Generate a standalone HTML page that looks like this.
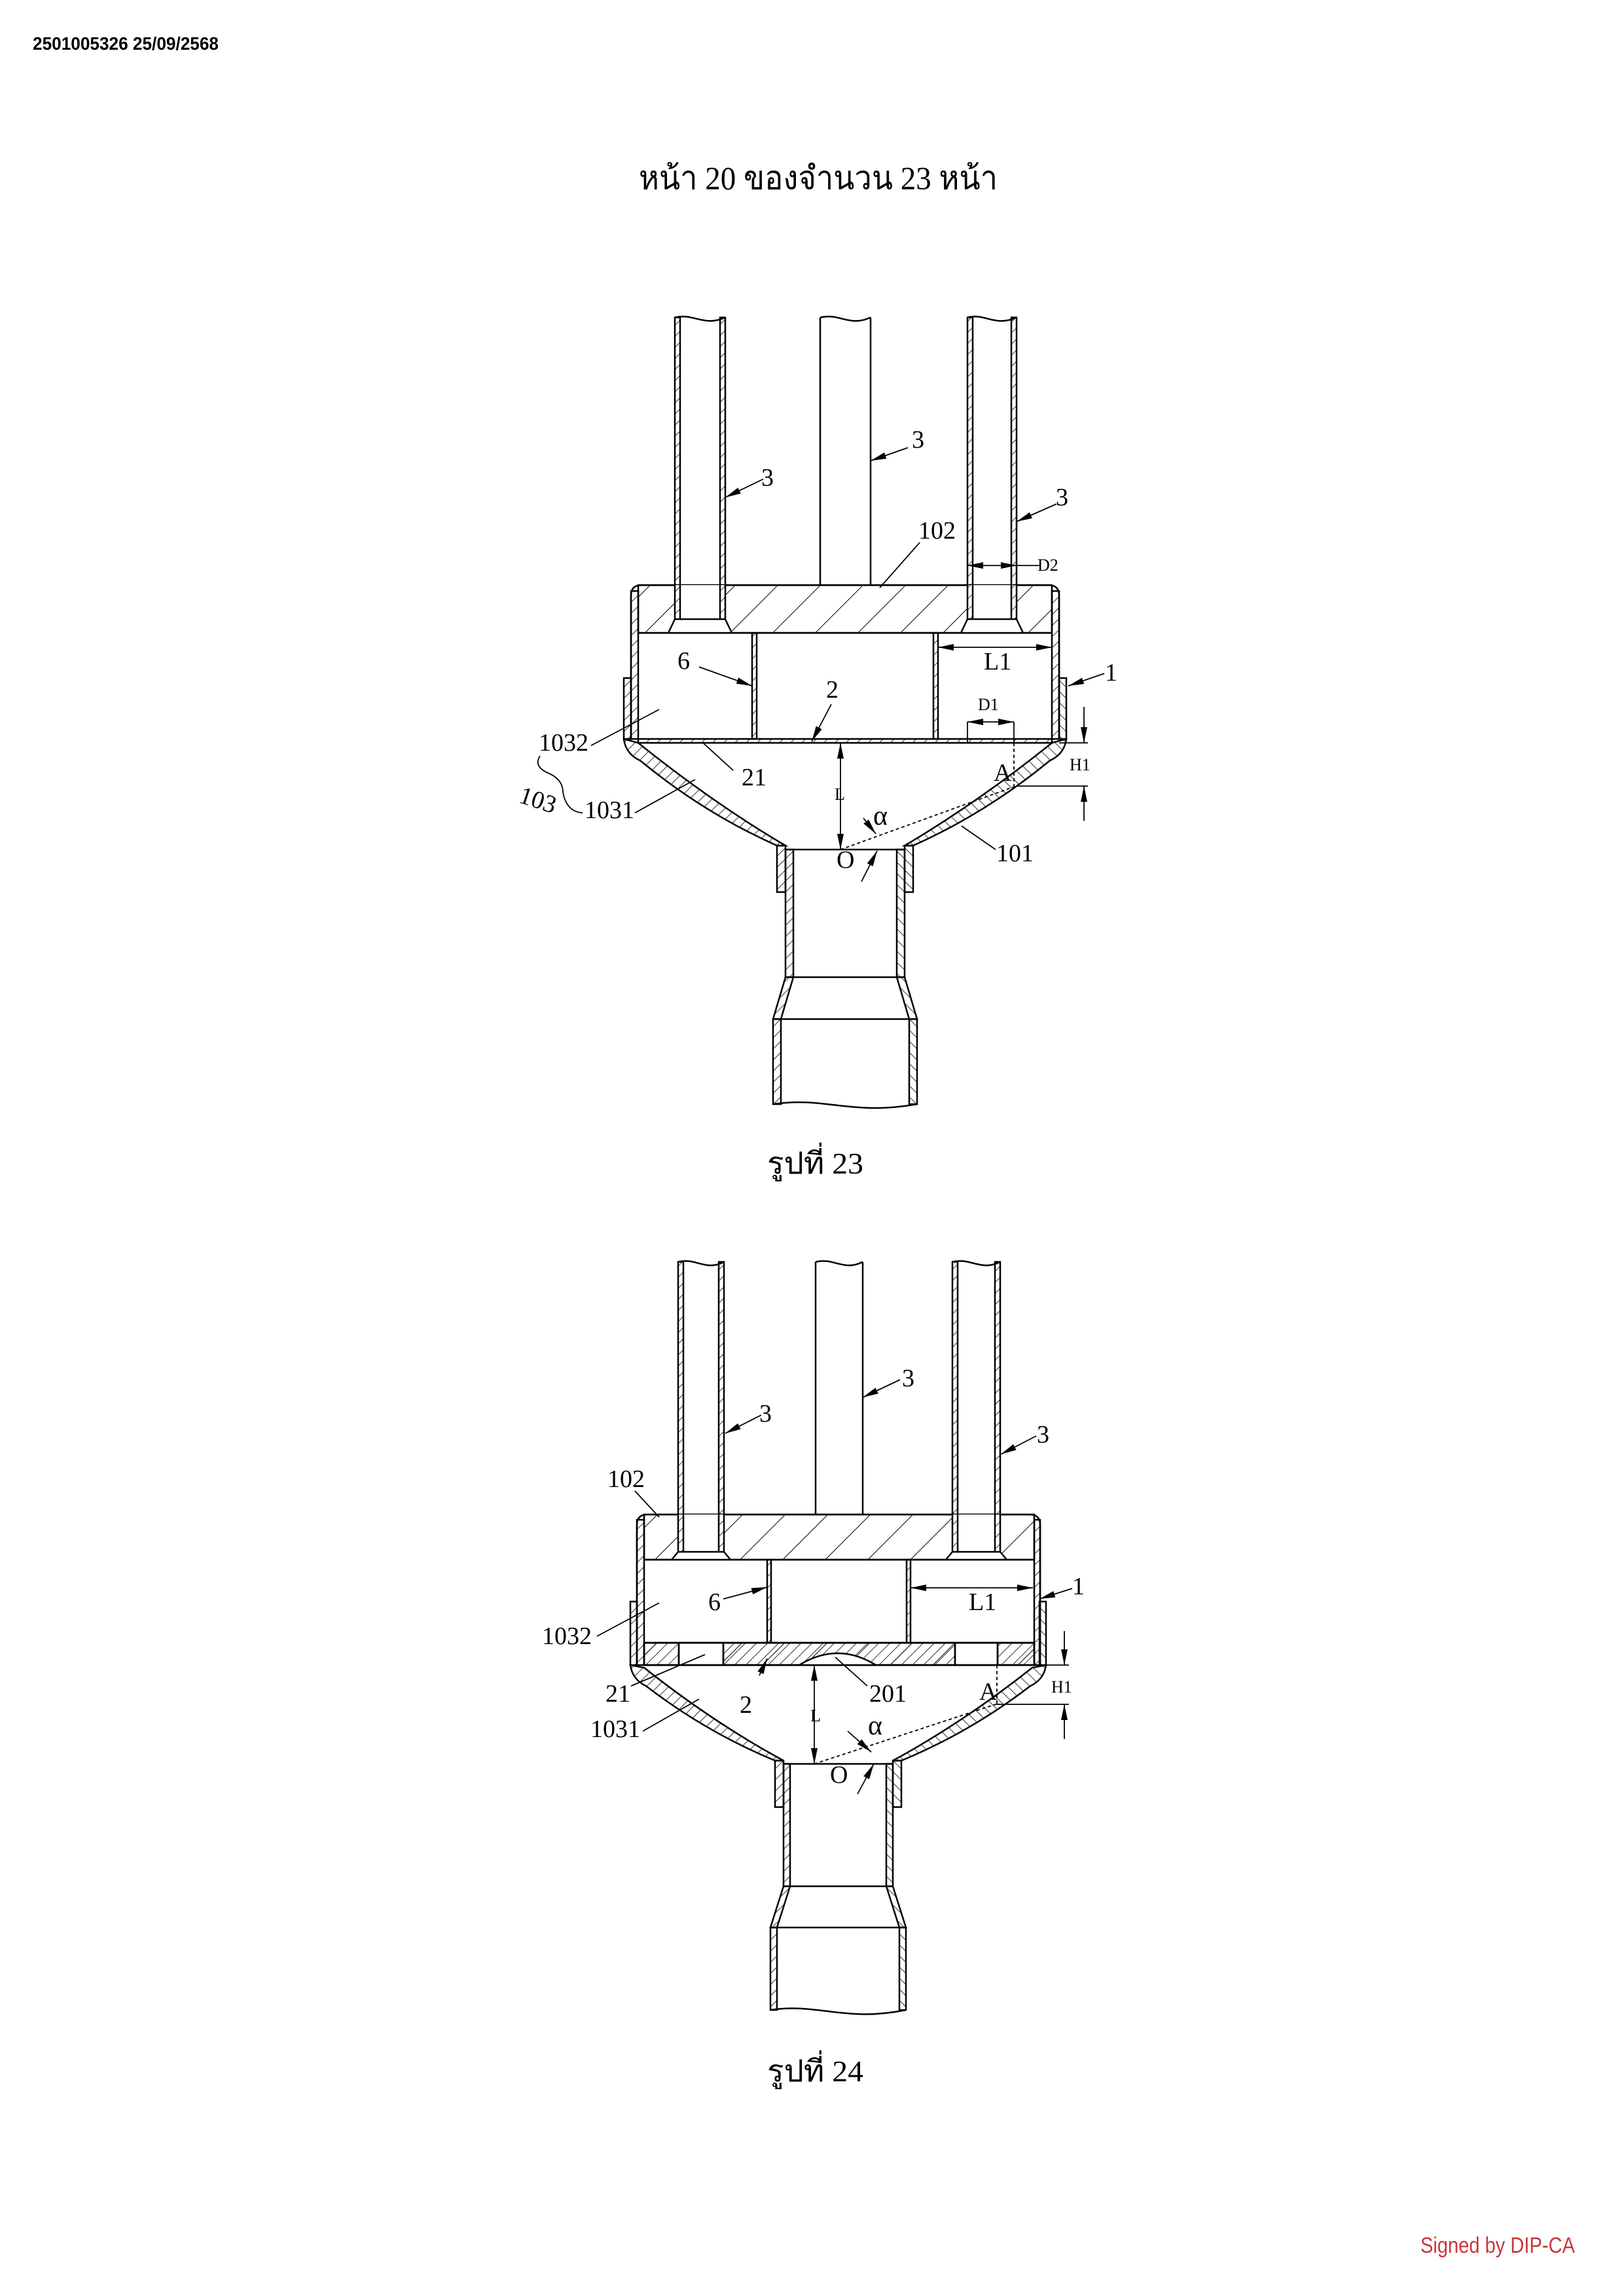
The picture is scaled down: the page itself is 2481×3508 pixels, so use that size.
<!DOCTYPE html>
<html><head><meta charset="utf-8"><style>
html,body{margin:0;padding:0;background:#fff}
svg{display:block}
text{font-family:"Liberation Serif","Noto Serif CJK SC",serif;fill:#000}
</style></head><body>
<svg width="2481" height="3508" viewBox="0 0 2481 3508" xmlns="http://www.w3.org/2000/svg">
<defs>
<pattern id="hs" patternUnits="userSpaceOnUse" width="12" height="12" patternTransform="rotate(45)"><line x1="0" y1="0" x2="0" y2="12" stroke="#000" stroke-width="1.6"/></pattern>
<pattern id="hb" patternUnits="userSpaceOnUse" width="46" height="46" patternTransform="rotate(45)"><line x1="0" y1="0" x2="0" y2="46" stroke="#000" stroke-width="2"/></pattern>
<marker id="a" markerUnits="userSpaceOnUse" markerWidth="24" markerHeight="10" refX="24" refY="5" orient="auto"><path d="M0,0 L24,5 L0,10 Z" fill="#000"/></marker>
<marker id="as" markerUnits="userSpaceOnUse" markerWidth="24" markerHeight="10" refX="0" refY="5" orient="auto"><path d="M24,0 L0,5 L24,10 Z" fill="#000"/></marker>
</defs>
<rect width="2481" height="3508" fill="#fff"/>

<text x="50" y="76" font-weight="bold" font-size="28" textLength="284" lengthAdjust="spacingAndGlyphs" style="font-family:'Liberation Sans',sans-serif">2501005326 25/09/2568</text>
<text x="976" y="289" font-size="50" textLength="548" lengthAdjust="spacingAndGlyphs">หน้า 20 ของจำนวน 23 หน้า</text>

<!-- ================= FIGURE 23 ================= -->
<g stroke="#000" stroke-width="2.5" fill="none">
  <rect x="964" y="903" width="11" height="226" fill="url(#hs)"/>
  <rect x="1607" y="903" width="11" height="226" fill="url(#hs)"/>
  <path d="M964 1129 L964 910 Q964 894 980 894 L1602 894 Q1618 894 1618 910 L1618 1129"/>
  <rect x="975" y="894" width="632" height="73" fill="url(#hb)"/>
  <polygon points="1031,894 1108,894 1108,946 1118,967 1021,967 1031,946" fill="#fff" stroke="none"/>
  <polygon points="1478,894 1553,894 1553,946 1563,967 1468,967 1478,946" fill="#fff" stroke="none"/>
  <path d="M1031 946 L1021 967 M1108 946 L1118 967 M1478 946 L1468 967 M1553 946 L1563 967"/>
  <line x1="975" y1="967" x2="1607" y2="967"/>
  <rect x="1031" y="485" width="8" height="461" fill="url(#hs)"/>
  <rect x="1100" y="485" width="8" height="461" fill="url(#hs)"/>
  <line x1="1039" y1="946" x2="1100" y2="946"/>
  <path d="M1031 485 C1060 478 1075 500 1108 485"/>
  <line x1="1253" y1="485" x2="1253" y2="894"/>
  <line x1="1330" y1="485" x2="1330" y2="894"/>
  <path d="M1253 485 C1283 478 1298 500 1330 485"/>
  <rect x="1478" y="485" width="8" height="461" fill="url(#hs)"/>
  <rect x="1545" y="485" width="8" height="461" fill="url(#hs)"/>
  <line x1="1486" y1="946" x2="1545" y2="946"/>
  <path d="M1478 485 C1505 478 1520 500 1553 485"/>
  <rect x="1149" y="967" width="7" height="162" fill="url(#hs)"/>
  <rect x="1426" y="967" width="7" height="162" fill="url(#hs)"/>
  <rect x="975" y="1129" width="632" height="6" fill="url(#hs)"/>
  <g id="f23">
    <rect x="953" y="1036" width="11" height="93" fill="url(#hs)"/>
    <path d="M953 1129 Q956 1152 978 1162 Q1075 1242 1187 1292 L1200 1292 Q1088 1226 975 1135 Z" fill="url(#hs)"/>
    <rect x="1187" y="1292" width="13" height="71" fill="url(#hs)"/>
    <rect x="1200" y="1298" width="12" height="195" fill="url(#hs)"/>
    <polygon points="1200,1493 1212,1493 1193,1557 1181,1557" fill="url(#hs)"/>
    <rect x="1181" y="1557" width="12" height="130" fill="url(#hs)"/>
  </g>
  <use href="#f23" transform="translate(2582,0) scale(-1,1)"/>
  <line x1="1200" y1="1298" x2="1382" y2="1298"/>
  <line x1="1212" y1="1493" x2="1370" y2="1493"/>
  <line x1="1193" y1="1557" x2="1389" y2="1557"/>
  <path d="M1181 1687 C1260 1675 1300 1705 1401 1687"/>
</g>
<g stroke="#000" stroke-width="1.8" fill="none">
  <line x1="1166" y1="732" x2="1108" y2="760" marker-end="url(#a)"/>
  <line x1="1387" y1="684" x2="1330" y2="704" marker-end="url(#a)"/>
  <line x1="1614" y1="770" x2="1553" y2="797" marker-end="url(#a)"/>
  <line x1="1405" y1="829" x2="1344" y2="898"/>
  <line x1="1478" y1="864" x2="1553" y2="864" marker-start="url(#as)" marker-end="url(#a)"/>
  <line x1="1553" y1="864" x2="1590" y2="864"/>
  <line x1="1433" y1="989" x2="1607" y2="989" marker-start="url(#as)" marker-end="url(#a)"/>
  <line x1="1687" y1="1029" x2="1632" y2="1048" marker-end="url(#a)"/>
  <line x1="1068" y1="1019" x2="1149" y2="1048" marker-end="url(#a)"/>
  <line x1="1270" y1="1076" x2="1240" y2="1133" marker-end="url(#a)"/>
  <line x1="1478" y1="1103" x2="1549" y2="1103" marker-start="url(#as)" marker-end="url(#a)"/>
  <line x1="1478" y1="1103" x2="1478" y2="1135"/>
  <line x1="1549" y1="1103" x2="1549" y2="1135"/>
  <line x1="1549" y1="1135" x2="1549" y2="1201" stroke-dasharray="5,4"/>
  <line x1="1618" y1="1135" x2="1662" y2="1135"/>
  <line x1="1552" y1="1201" x2="1662" y2="1201"/>
  <line x1="1656" y1="1080" x2="1656" y2="1135" marker-end="url(#a)"/>
  <line x1="1656" y1="1254" x2="1656" y2="1201" marker-end="url(#a)"/>
  <line x1="1120" y1="1177" x2="1074" y2="1135"/>
  <line x1="903" y1="1139" x2="1007" y2="1084"/>
  <line x1="970" y1="1242" x2="1062" y2="1191"/>
  <path d="M825 1155 Q815 1170 835 1180 Q860 1190 860 1210 Q865 1240 890 1242"/>
  <line x1="1284" y1="1135" x2="1284" y2="1298" marker-start="url(#as)" marker-end="url(#a)"/>
  <line x1="1284" y1="1298" x2="1552" y2="1201" stroke-dasharray="5,4"/>
  <line x1="1319" y1="1250" x2="1338" y2="1274" marker-end="url(#a)"/>
  <line x1="1316" y1="1347" x2="1340" y2="1300" marker-end="url(#a)"/>
  <line x1="1521" y1="1298" x2="1469" y2="1262"/>
</g>
<g font-size="38">
  <text x="1163" y="742">3</text>
  <text x="1393" y="684">3</text>
  <text x="1613" y="772">3</text>
  <text x="1403" y="823">102</text>
  <text x="1585" y="872" font-size="26">D2</text>
  <text x="1503" y="1023">L1</text>
  <text x="1688" y="1040">1</text>
  <text x="1035" y="1022">6</text>
  <text x="1262" y="1066">2</text>
  <text x="1494" y="1085" font-size="26">D1</text>
  <text x="1634" y="1177" font-size="26">H1</text>
  <text x="1518" y="1193">A</text>
  <text x="1133" y="1200">21</text>
  <text x="823" y="1147">1032</text>
  <text x="893" y="1250">1031</text>
  <text x="793" y="1232" transform="rotate(18 813 1222)">103</text>
  <text x="1275" y="1222" font-size="26">L</text>
  <text x="1278" y="1326">O</text>
  <text x="1334" y="1260" font-size="42">α</text>
  <text x="1522" y="1316">101</text>
</g>
<text x="1172" y="1793" font-size="46" textLength="147" lengthAdjust="spacingAndGlyphs">รูปที่ 23</text>

<!-- ================= FIGURE 24 ================= -->
<g stroke="#000" stroke-width="2.5" fill="none">
  <rect x="973" y="2322" width="11" height="222" fill="url(#hs)"/>
  <rect x="1580" y="2322" width="9" height="222" fill="url(#hs)"/>
  <path d="M973 2544 L973 2330 Q973 2314 989 2314 L1573 2314 Q1589 2314 1589 2330 L1589 2544"/>
  <rect x="984" y="2314" width="596" height="69" fill="url(#hb)"/>
  <polygon points="1036,2314 1106,2314 1106,2371 1116,2383 1026,2383 1036,2371" fill="#fff" stroke="none"/>
  <polygon points="1455,2314 1528,2314 1528,2371 1538,2383 1445,2383 1455,2371" fill="#fff" stroke="none"/>
  <path d="M1036 2371 L1026 2383 M1106 2371 L1116 2383 M1455 2371 L1445 2383 M1528 2371 L1538 2383"/>
  <line x1="984" y1="2383" x2="1580" y2="2383"/>
  <rect x="1036" y="1928" width="8" height="443" fill="url(#hs)"/>
  <rect x="1098" y="1928" width="8" height="443" fill="url(#hs)"/>
  <line x1="1044" y1="2371" x2="1098" y2="2371"/>
  <path d="M1036 1928 C1063 1921 1078 1943 1106 1928"/>
  <line x1="1246" y1="1928" x2="1246" y2="2314"/>
  <line x1="1318" y1="1928" x2="1318" y2="2314"/>
  <path d="M1246 1928 C1274 1921 1289 1943 1318 1928"/>
  <rect x="1455" y="1928" width="8" height="443" fill="url(#hs)"/>
  <rect x="1520" y="1928" width="8" height="443" fill="url(#hs)"/>
  <line x1="1463" y1="2371" x2="1520" y2="2371"/>
  <path d="M1455 1928 C1483 1921 1498 1943 1528 1928"/>
  <rect x="1172" y="2383" width="6" height="127" fill="url(#hs)"/>
  <rect x="1385" y="2383" width="6" height="127" fill="url(#hs)"/>
  <rect x="984" y="2510" width="596" height="34" fill="url(#hb)"/>
  <rect x="984" y="2510" width="596" height="34" fill="url(#hs)"/>
  <rect x="1037" y="2510" width="68" height="34" fill="#fff"/>
  <rect x="1459" y="2510" width="65" height="34" fill="#fff"/>
  <path d="M1221 2545 Q1280 2505 1338 2545 Z" fill="#fff" stroke="none"/>
  <path d="M1221 2544 Q1280 2508 1338 2544"/>
  <line x1="1037" y1="2510" x2="1037" y2="2544"/>
  <line x1="1105" y1="2510" x2="1105" y2="2544"/>
  <line x1="1459" y1="2510" x2="1459" y2="2544"/>
  <line x1="1524" y1="2510" x2="1524" y2="2544"/>
  <line x1="984" y1="2510" x2="1580" y2="2510"/>
  <line x1="984" y1="2544" x2="1580" y2="2544"/>
  <g id="f24">
    <rect x="963" y="2447" width="10" height="97" fill="url(#hs)"/>
    <path d="M963 2544 Q966 2566 987 2576 Q1078 2646 1184 2690 L1197 2690 Q1090 2632 984 2548 Z" fill="url(#hs)"/>
    <rect x="1184" y="2690" width="13" height="71" fill="url(#hs)"/>
    <rect x="1197" y="2695" width="10" height="187" fill="url(#hs)"/>
    <polygon points="1197,2882 1207,2882 1187,2945 1177,2945" fill="url(#hs)"/>
    <rect x="1177" y="2945" width="10" height="126" fill="url(#hs)"/>
  </g>
  <use href="#f24" transform="translate(2561,0) scale(-1,1)"/>
  <line x1="1197" y1="2695" x2="1364" y2="2695"/>
  <line x1="1207" y1="2882" x2="1354" y2="2882"/>
  <line x1="1187" y1="2945" x2="1374" y2="2945"/>
  <path d="M1177 3071 C1250 3060 1290 3090 1384 3071"/>
</g>
<g stroke="#000" stroke-width="1.8" fill="none">
  <line x1="1163" y1="2162" x2="1108" y2="2190" marker-end="url(#a)"/>
  <line x1="1375" y1="2108" x2="1318" y2="2135" marker-end="url(#a)"/>
  <line x1="1583" y1="2194" x2="1529" y2="2222" marker-end="url(#a)"/>
  <line x1="970" y1="2278" x2="1007" y2="2318"/>
  <line x1="1391" y1="2426" x2="1578" y2="2426" marker-start="url(#as)" marker-end="url(#a)"/>
  <line x1="1638" y1="2427" x2="1588" y2="2443" marker-end="url(#a)"/>
  <line x1="1105" y1="2443" x2="1172" y2="2425" marker-end="url(#a)"/>
  <line x1="912" y1="2500" x2="1007" y2="2449"/>
  <line x1="964" y1="2576" x2="1077" y2="2528"/>
  <line x1="1160" y1="2560" x2="1172" y2="2534" marker-end="url(#a)"/>
  <line x1="1325" y1="2576" x2="1276" y2="2532"/>
  <line x1="982" y1="2645" x2="1068" y2="2596"/>
  <line x1="1244" y1="2544" x2="1244" y2="2695" marker-start="url(#as)" marker-end="url(#a)"/>
  <line x1="1589" y1="2544" x2="1633" y2="2544"/>
  <line x1="1521" y1="2604" x2="1633" y2="2604"/>
  <line x1="1626" y1="2492" x2="1626" y2="2544" marker-end="url(#a)"/>
  <line x1="1626" y1="2657" x2="1626" y2="2604" marker-end="url(#a)"/>
  <line x1="1523" y1="2544" x2="1523" y2="2604" stroke-dasharray="5,4"/>
  <line x1="1244" y1="2695" x2="1521" y2="2604" stroke-dasharray="5,4"/>
  <line x1="1295" y1="2645" x2="1331" y2="2677" marker-end="url(#a)"/>
  <line x1="1310" y1="2741" x2="1335" y2="2695" marker-end="url(#a)"/>
</g>
<g font-size="38">
  <text x="1160" y="2172">3</text>
  <text x="1378" y="2118">3</text>
  <text x="1584" y="2204">3</text>
  <text x="928" y="2272">102</text>
  <text x="1480" y="2460">L1</text>
  <text x="1638" y="2436">1</text>
  <text x="1082" y="2460">6</text>
  <text x="828" y="2512">1032</text>
  <text x="925" y="2600">21</text>
  <text x="1130" y="2617">2</text>
  <text x="1328" y="2600">201</text>
  <text x="902" y="2654">1031</text>
  <text x="1238" y="2630" font-size="26">L</text>
  <text x="1606" y="2586" font-size="26">H1</text>
  <text x="1496" y="2597">A</text>
  <text x="1326" y="2650" font-size="42">α</text>
  <text x="1268" y="2724">O</text>
</g>
<text x="1172" y="3180" font-size="46" textLength="147" lengthAdjust="spacingAndGlyphs">รูปที่ 24</text>

<text x="2170" y="3442" font-size="34" style="font-family:'Liberation Sans',sans-serif;fill:#c8383c" textLength="236" lengthAdjust="spacingAndGlyphs">Signed by DIP-CA</text>
</svg>
</body></html>
